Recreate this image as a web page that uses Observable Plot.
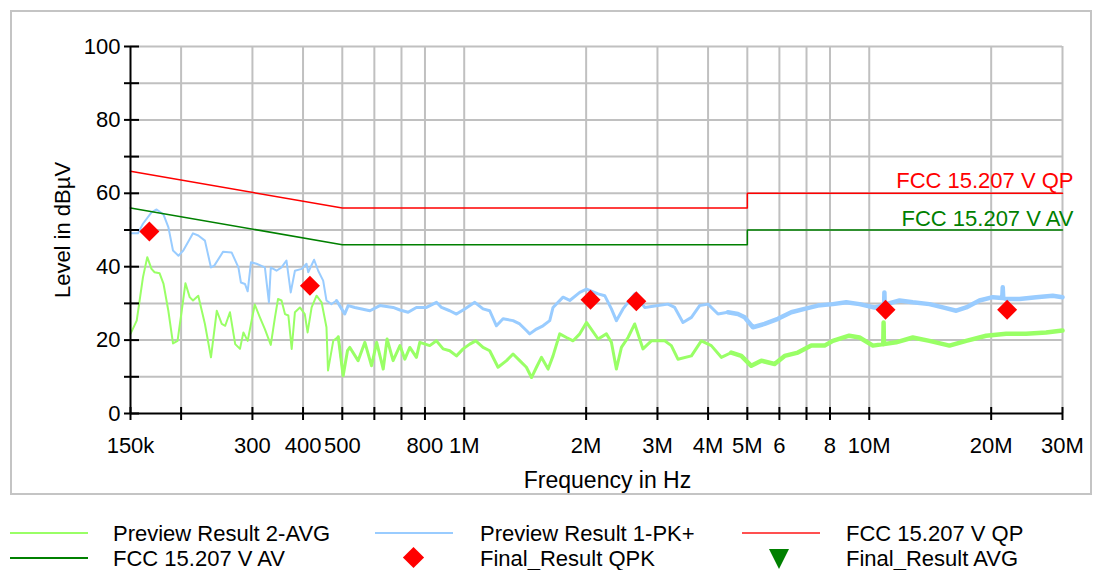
<!DOCTYPE html>
<html><head><meta charset="utf-8">
<script src="https://cdn.jsdelivr.net/npm/d3@7"></script>
<script src="https://cdn.jsdelivr.net/npm/@observablehq/plot@0.6"></script>
<style>
body{margin:0;background:#fff;font-family:"Liberation Sans",Arial,sans-serif;}
#wrap{position:relative;width:1102px;height:570px;overflow:hidden;background:#fff;}
#chart{position:absolute;left:0;top:0;}
#frame{position:absolute;left:10px;top:10px;width:1082px;height:485px;border:2px solid #c4c4c4;box-sizing:border-box;pointer-events:none;}
.lg{position:absolute;font-size:22px;line-height:24px;color:#000;white-space:nowrap;}
.ln{position:absolute;height:2px;}
.dia{position:absolute;width:15px;height:15px;background:#ff0000;transform:rotate(45deg);}
.tri{position:absolute;width:0;height:0;border-left:10px solid transparent;border-right:10px solid transparent;border-top:20px solid #008000;}
</style></head>
<body><div id="wrap"><div id="chart"></div><div id="frame"></div>
<div class="ln" style="left:10px;top:532px;width:78px;background:#99ff66"></div>
<div class="lg" style="left:113px;top:522px">Preview Result 2-AVG</div>
<div class="ln" style="left:375px;top:532px;width:78px;background:#99ccff"></div>
<div class="lg" style="left:480px;top:522px">Preview Result 1-PK+</div>
<div class="ln" style="left:742px;top:532px;width:78px;background:#ff5050"></div>
<div class="lg" style="left:846px;top:522px">FCC 15.207 V QP</div>
<div class="ln" style="left:10px;top:557px;width:78px;background:#008000"></div>
<div class="lg" style="left:113px;top:547px">FCC 15.207 V AV</div>
<div class="dia" style="left:406px;top:550px"></div>
<div class="lg" style="left:480px;top:547px">Final_Result QPK</div>
<div class="tri" style="left:769px;top:549px"></div>
<div class="lg" style="left:846px;top:547px">Final_Result AVG</div>
</div>
<script>
// Frequencies in MHz, levels in dBµV
const pkFreq = [0.150,0.1565,0.161,0.169,0.174,0.181,0.186,0.191,0.197,0.2025,0.214,0.2205,0.229,0.237,0.2415,0.254,0.2665,0.277,0.281,0.2875,0.292,0.2975,0.307,0.322,0.3295,0.333,0.344,0.354,0.364,0.373,0.382,0.397,0.408,0.412,0.426,0.436,0.4485,0.457,0.470,0.484,0.507,0.517,0.537,0.585,0.619,0.6675,0.694,0.727,0.762,0.807,0.854,0.879,0.921,0.957,1.003,1.062,1.113,1.156,1.201,1.247,1.320,1.371,1.424,1.451,1.508,1.565,1.626,1.657,1.754,1.822,1.929,2.004,2.141,2.223,2.309,2.375,2.466,2.636,2.790,3.009,3.185,3.309,3.468,3.639,3.813,3.998,4.232,4.477,4.740,4.924,5.162,5.515,5.949,6.420,6.922,7.466,8.13,8.775,9.462,10.31,10.88,10.9,10.92,11.01,11.88,12.81,14.08,15.19,16.40,17.35,18.71,20.18,21.30,21.36,21.42,21.78,23.49,25.83,28.38,30.0];
const pkLevel = [49.1,49.1,51.7,54.8,55.6,54.2,50.8,44.4,43.0,44.4,49.1,48.5,47.1,39.8,40.3,44.1,43.9,39.8,35.7,35.3,33.3,41.2,40.8,39.8,30.3,39.8,38.9,39.8,41.7,33.0,38.9,39.4,40.8,38.5,41.9,38.9,36.2,30.8,29.8,30.8,27.1,29.4,28.9,28.0,29.4,28.9,28.2,27.6,28.9,28.9,30.3,28.9,28.0,27.1,28.5,30.3,28.5,28.0,23.9,25.8,25.3,24.4,22.6,21.7,23.0,23.9,25.3,28.9,31.7,30.8,33.0,33.9,32.6,32.1,28.5,25.3,28.5,32.6,28.9,29.4,29.8,28.9,24.8,26.2,29.4,29.8,27.1,27.6,27.1,26.2,23.5,24.4,25.8,27.6,28.5,29.4,29.8,30.3,29.8,28.9,29.5,33.0,29.5,29.8,30.8,30.3,29.8,28.9,28.0,28.9,30.8,31.7,31.5,34.4,31.5,31.2,31.2,31.7,32.1,31.7];
const avgFreq = [0.150,0.1554,0.158,0.161,0.165,0.169,0.172,0.177,0.181,0.186,0.191,0.196,0.2007,0.205,0.210,0.214,0.2205,0.229,0.237,0.245,0.252,0.257,0.264,0.272,0.2795,0.285,0.292,0.304,0.313,0.322,0.333,0.341,0.347,0.354,0.361,0.368,0.375,0.382,0.393,0.404,0.4105,0.420,0.432,0.4445,0.457,0.461,0.475,0.4886,0.5025,0.515,0.522,0.547,0.5685,0.5905,0.608,0.631,0.645,0.6675,0.694,0.7135,0.734,0.762,0.777,0.822,0.854,0.887,0.921,0.957,0.994,1.032,1.068,1.113,1.156,1.212,1.272,1.320,1.371,1.424,1.466,1.508,1.551,1.611,1.657,1.721,1.788,1.857,1.929,2.004,2.141,2.244,2.309,2.375,2.444,2.538,2.636,2.763,2.898,3.126,3.246,3.370,3.639,3.849,4.074,4.313,4.564,4.832,5.114,5.413,5.839,6.181,6.666,7.193,7.757,8.13,8.922,9.462,10.21,10.83,10.85,10.87,11.65,12.81,14.08,15.78,17.35,19.44,21.78,24.39,27.33,30.0];
const avgLevel = [21.7,25.3,30.8,37.1,42.6,39.4,38.5,38.2,35.3,28.0,19.1,19.8,28.0,35.5,31.7,30.8,32.1,24.4,15.3,28.0,24.4,23.9,27.6,18.9,17.6,22.1,19.8,29.7,26.2,23.0,18.7,26.2,31.2,30.8,27.1,26.7,17.6,27.6,28.9,27.1,22.1,28.9,32.1,30.3,23.5,11.7,19.8,20.9,10.3,17.1,18.0,14.4,19.4,13.0,19.4,12.1,20.3,14.4,18.5,14.8,18.0,15.3,19.4,18.5,19.8,17.6,17.1,15.7,17.6,18.9,19.8,18.0,17.1,12.6,14.4,16.2,14.4,12.6,9.8,12.6,15.3,12.1,15.7,21.7,20.7,19.8,21.7,24.8,20.3,21.7,19.4,12.1,18.0,20.7,24.4,17.6,19.8,19.8,18.5,14.8,15.7,19.8,18.5,15.3,16.6,15.7,13.0,14.4,13.5,15.7,16.6,18.5,18.5,19.8,21.2,20.7,18.5,18.9,24.8,18.9,19.4,20.7,19.8,18.5,19.8,21.2,21.7,21.7,22.1,22.6];
const limitFreq = [0.15,0.5,5,5,30];
const qpLimit = [66,56,56,60,60];
const avLimit = [56,46,46,50,50];
const qpkFreq = [0.167,0.416,2.05,2.66,10.97,21.9];
const qpkLevel = [49.6,34.8,31.0,30.6,28.3,28.3];
const xTicks = [0.15,0.2,0.3,0.4,0.5,0.6,0.7,0.8,1,2,3,4,5,6,7,8,10,20,30];
const xTickLabels = ["150k","","300","400","500","","","800","1M","2M","3M","4M","5M","6","","8","10M","20M","30M"];
const yMinorTicks = [0,10,20,30,40,50,60,70,80,90,100];
const yTickLabels = [0,20,40,60,80,100];

const pk = pkFreq.map((f,i)=>({f, v: pkLevel[i]}));
const avg = avgFreq.map((f,i)=>({f, v: avgLevel[i]}));
const qp = limitFreq.map((f,i)=>({f, v: qpLimit[i]}));
const av = limitFreq.map((f,i)=>({f, v: avLimit[i]}));
const qpk = qpkFreq.map((f,i)=>({f, v: qpkLevel[i]}));
const xLab = xTicks.map((f,i)=>({f, v: 0, t: xTickLabels[i]})).filter(d => d.t);
const FONT = '"Liberation Sans", Arial, sans-serif';
// trace band width grows with frequency (denser sweep in reference); segments overlap by one point
const seg = (arr, lo, hi) => {
  const i0 = Math.max(0, arr.findIndex(d => d.f >= lo) - 1);
  let i1 = arr.findIndex(d => d.f > hi); if (i1 < 0) i1 = arr.length;
  return arr.slice(i0, i1 + 1);
};

const chart = Plot.plot({
  width: 1102, height: 505,
  marginLeft: 130, marginRight: 40, marginTop: 46, marginBottom: 92,
  style: {fontFamily: FONT, fontSize: "22px", background: "transparent", color: "black"},
  x: {type: "log", domain: [0.15, 30]},
  y: {domain: [0, 100]},
  marks: [
    Plot.gridX({ticks: xTicks.slice(1), stroke: "#c0c0c0", strokeOpacity: 1, strokeWidth: 2}),
    Plot.gridY({ticks: yMinorTicks.slice(1), stroke: "#c0c0c0", strokeOpacity: 1, strokeWidth: 2}),
    Plot.line(seg(avg, 0, 0.5), {x: "f", y: "v", stroke: "#99ff66", strokeWidth: 2}),
    Plot.line(seg(avg, 0.5, 4.6), {x: "f", y: "v", stroke: "#99ff66", strokeWidth: 3}),
    Plot.line(seg(avg, 4.6, 31), {x: "f", y: "v", stroke: "#99ff66", strokeWidth: 4.5}),
    Plot.line(seg(pk, 0, 0.5), {x: "f", y: "v", stroke: "#99ccff", strokeWidth: 2}),
    Plot.line(seg(pk, 0.5, 4.6), {x: "f", y: "v", stroke: "#99ccff", strokeWidth: 3}),
    Plot.line(seg(pk, 4.6, 31), {x: "f", y: "v", stroke: "#99ccff", strokeWidth: 4.5}),
    Plot.line(qp, {x: "f", y: "v", stroke: "#ff0000", strokeWidth: 1.5}),
    Plot.line(av, {x: "f", y: "v", stroke: "#008000", strokeWidth: 1.5}),
    Plot.ruleX([0.15], {stroke: "black", strokeWidth: 2}),
    Plot.ruleY([0], {stroke: "black", strokeWidth: 2}),
    Plot.axisY({ticks: yMinorTicks, tickSize: 15, dx: 9, tickFormat: () => "", label: null, strokeWidth: 2}),
    Plot.axisY({ticks: yTickLabels, tickSize: 0, tickPadding: 10, label: null, fontSize: 22}),
    Plot.axisX({ticks: xTicks, tickSize: 13, dy: -6, tickFormat: () => "", label: null, strokeWidth: 2}),
    Plot.text(xLab, {x: "f", y: "v", text: "t", dy: 32, fontSize: 22}),
    Plot.dot(qpk, {x: "f", y: "v", symbol: "diamond2", r: 9, fill: "#ff0000"}),
    Plot.text([{f: 30, v: 60, t: "FCC 15.207 V QP"}], {x: "f", y: "v", text: "t", textAnchor: "end", dx: 11, dy: -12, fill: "#ff0000", fontSize: 22}),
    Plot.text([{f: 30, v: 50, t: "FCC 15.207 V AV"}], {x: "f", y: "v", text: "t", textAnchor: "end", dx: 11, dy: -11, fill: "#008000", fontSize: 22}),
    Plot.text([{f: 0.15, v: 50, t: "Level in dBµV"}], {x: "f", y: "v", text: "t", rotate: -90, dx: -68, fontSize: 22}),
    Plot.text([{f: Math.sqrt(0.15 * 30), v: 0, t: "Frequency in Hz"}], {x: "f", y: "v", text: "t", dx: 11, dy: 67, fontSize: 23})
  ]
});
document.getElementById("chart").appendChild(chart);
</script></body></html>
